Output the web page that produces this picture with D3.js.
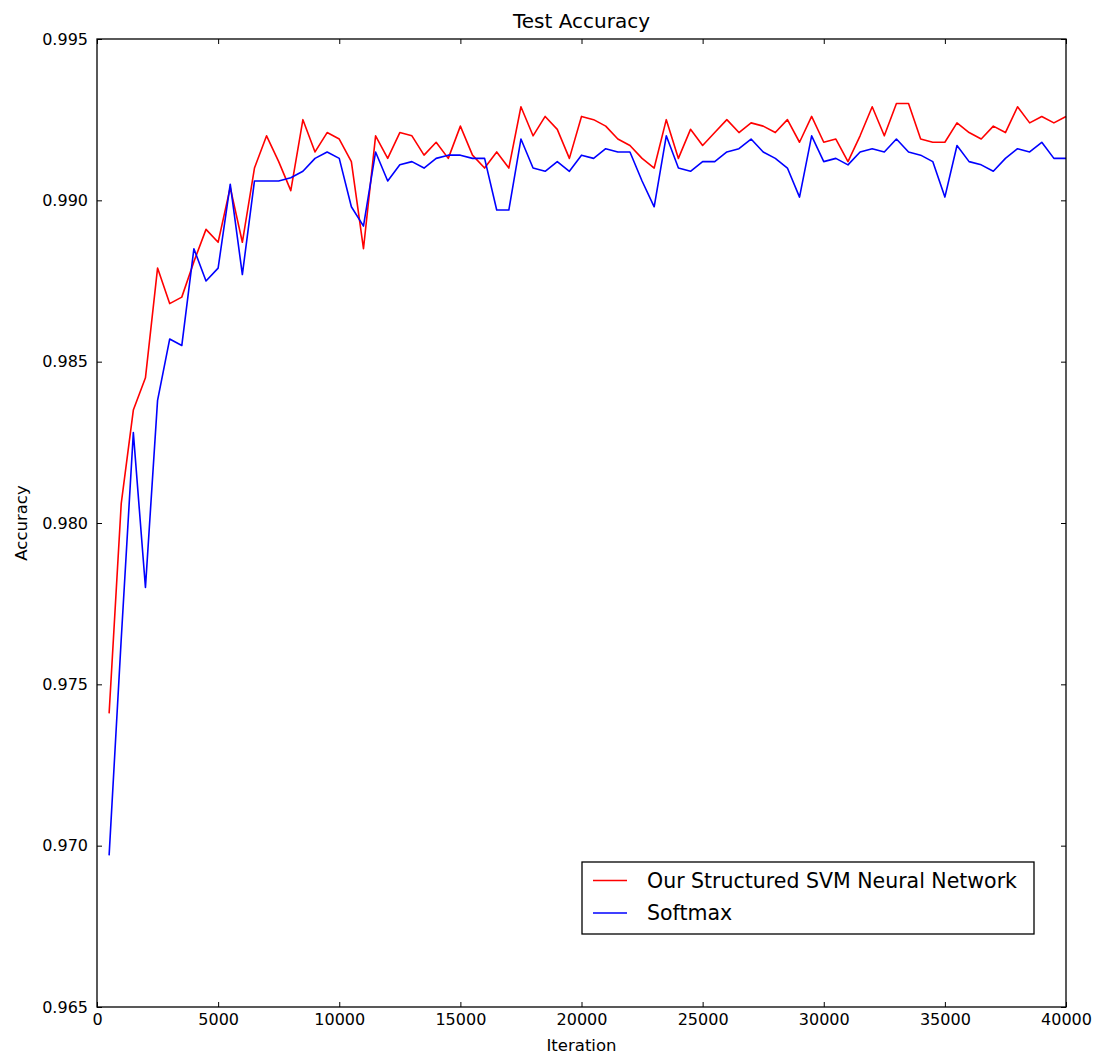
<!DOCTYPE html>
<html>
<head>
<meta charset="utf-8">
<script src="https://cdn.jsdelivr.net/npm/d3@7"></script>
<style>
  html, body { margin: 0; padding: 0; background: #fff; }
  svg { display: block; font-family: "DejaVu Sans", sans-serif; }
</style>
</head>
<body>
<svg id="chart" width="1095" height="1061"></svg>
<script>
// Test accuracy sampled every 500 iterations
const iterations = d3.range(500, 40001, 500);

const svmAccuracy = [
  0.9741, 0.9806, 0.9835, 0.9845, 0.9879, 0.9868, 0.9870, 0.9881, 0.9891, 0.9887,
  0.9904, 0.9887, 0.9910, 0.9920, 0.9912, 0.9903, 0.9925, 0.9915, 0.9921, 0.9919,
  0.9912, 0.9885, 0.9920, 0.9913, 0.9921, 0.9920, 0.9914, 0.9918, 0.9913, 0.9923,
  0.9914, 0.9910, 0.9915, 0.9910, 0.9929, 0.9920, 0.9926, 0.9922, 0.9913, 0.9926,
  0.9925, 0.9923, 0.9919, 0.9917, 0.9913, 0.9910, 0.9925, 0.9913, 0.9922, 0.9917,
  0.9921, 0.9925, 0.9921, 0.9924, 0.9923, 0.9921, 0.9925, 0.9918, 0.9926, 0.9918,
  0.9919, 0.9912, 0.9920, 0.9929, 0.9920, 0.9930, 0.9930, 0.9919, 0.9918, 0.9918,
  0.9924, 0.9921, 0.9919, 0.9923, 0.9921, 0.9929, 0.9924, 0.9926, 0.9924, 0.9926
];

const softmaxAccuracy = [
  0.9697, 0.9764, 0.9828, 0.9780, 0.9838, 0.9857, 0.9855, 0.9885, 0.9875, 0.9879,
  0.9905, 0.9877, 0.9906, 0.9906, 0.9906, 0.9907, 0.9909, 0.9913, 0.9915, 0.9913,
  0.9898, 0.9892, 0.9915, 0.9906, 0.9911, 0.9912, 0.9910, 0.9913, 0.9914, 0.9914,
  0.9913, 0.9913, 0.9897, 0.9897, 0.9919, 0.9910, 0.9909, 0.9912, 0.9909, 0.9914,
  0.9913, 0.9916, 0.9915, 0.9915, 0.9906, 0.9898, 0.9920, 0.9910, 0.9909, 0.9912,
  0.9912, 0.9915, 0.9916, 0.9919, 0.9915, 0.9913, 0.9910, 0.9901, 0.9920, 0.9912,
  0.9913, 0.9911, 0.9915, 0.9916, 0.9915, 0.9919, 0.9915, 0.9914, 0.9912, 0.9901,
  0.9917, 0.9912, 0.9911, 0.9909, 0.9913, 0.9916, 0.9915, 0.9918, 0.9913, 0.9913
];

const seriesNames = ["Our Structured SVM Neural Network", "Softmax"];
const seriesColors = ["#ff0000", "#0000ff"];

const xTicks = [0, 5000, 10000, 15000, 20000, 25000, 30000, 35000, 40000];
const yTicks = [0.965, 0.970, 0.975, 0.980, 0.985, 0.990, 0.995];

const svg = d3.select("#chart");
const plot = { left: 97, right: 1066, top: 39, bottom: 1007 };

const x = d3.scaleLinear().domain([0, 40000]).range([plot.left, plot.right]);
const y = d3.scaleLinear().domain([0.965, 0.995]).range([plot.bottom, plot.top]);

const tickFont = 16;

// Axes with inward ticks on all four sides
function styleAxis(g) {
  g.select(".domain").remove();
  g.selectAll(".tick line").attr("stroke", "#000").attr("stroke-width", 1);
  g.selectAll(".tick text")
    .attr("fill", "#000")
    .style("font-family", "'DejaVu Sans', sans-serif")
    .style("font-size", tickFont + "px");
}

svg.append("g")
  .attr("transform", `translate(0,${plot.bottom})`)
  .call(d3.axisBottom(x).tickValues(xTicks).tickFormat(d3.format("d"))
    .tickSizeInner(-5).tickSizeOuter(0).tickPadding(7))
  .call(styleAxis);

svg.append("g")
  .attr("transform", `translate(0,${plot.top})`)
  .call(d3.axisTop(x).tickValues(xTicks).tickFormat("")
    .tickSizeInner(-5).tickSizeOuter(0))
  .call(styleAxis);

svg.append("g")
  .attr("transform", `translate(${plot.left},0)`)
  .call(d3.axisLeft(y).tickValues(yTicks).tickFormat(d3.format(".3f"))
    .tickSizeInner(-5).tickSizeOuter(0).tickPadding(9))
  .call(styleAxis);

svg.append("g")
  .attr("transform", `translate(${plot.right},0)`)
  .call(d3.axisRight(y).tickValues(yTicks).tickFormat("")
    .tickSizeInner(-5).tickSizeOuter(0))
  .call(styleAxis);

// Data lines
const line = d3.line()
  .x((d, i) => x(iterations[i]))
  .y(d => y(d));

[svmAccuracy, softmaxAccuracy].forEach((vals, k) => {
  svg.append("path")
    .datum(vals)
    .attr("fill", "none")
    .attr("stroke", seriesColors[k])
    .attr("stroke-width", 1.6)
    .attr("stroke-linejoin", "round")
    .attr("d", line);
});

// Axes frame
svg.append("rect")
  .attr("x", plot.left).attr("y", plot.top)
  .attr("width", plot.right - plot.left).attr("height", plot.bottom - plot.top)
  .attr("fill", "none").attr("stroke", "#000").attr("stroke-width", 1.3);

// Title and axis labels
svg.append("text")
  .attr("x", (plot.left + plot.right) / 2).attr("y", 28)
  .attr("text-anchor", "middle")
  .style("font-size", "20px")
  .text("Test Accuracy");

svg.append("text")
  .attr("x", (plot.left + plot.right) / 2).attr("y", 1051)
  .attr("text-anchor", "middle")
  .style("font-size", "16.5px")
  .text("Iteration");

svg.append("text")
  .attr("transform", `translate(27,${(plot.top + plot.bottom) / 2}) rotate(-90)`)
  .attr("text-anchor", "middle")
  .style("font-size", "16.5px")
  .text("Accuracy");

// Legend
const legend = svg.append("g");
legend.append("rect")
  .attr("x", 582).attr("y", 862)
  .attr("width", 452).attr("height", 72)
  .attr("fill", "#fff").attr("stroke", "#000").attr("stroke-width", 1.3);

seriesNames.forEach((name, k) => {
  const cy = 880.5 + k * 32.5;
  legend.append("line")
    .attr("x1", 593).attr("x2", 627)
    .attr("y1", cy).attr("y2", cy)
    .attr("stroke", seriesColors[k]).attr("stroke-width", 1.6);
  legend.append("text")
    .attr("x", 647).attr("y", cy)
    .attr("dy", "0.35em")
    .style("font-size", "20.5px")
    .text(name);
});
</script>
</body>
</html>
